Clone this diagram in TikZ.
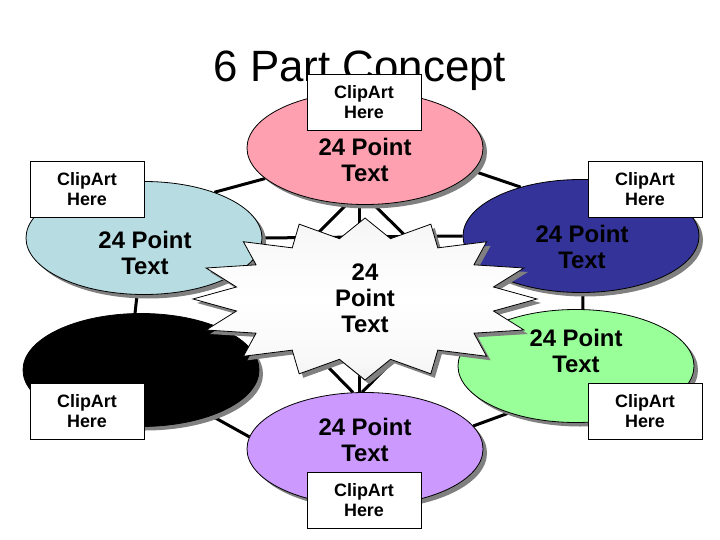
\documentclass[tikz,border=0pt]{standalone}
\usepackage{fontspec}
\setmainfont{Liberation Sans}
\usetikzlibrary{shapes.geometric}
\usetikzlibrary{shadows}
\usetikzlibrary{calc}

\pgfdeclarelayer{background}
\pgfsetlayers{background,main}

\definecolor{pinkfill}{RGB}{255,160,176}
\definecolor{bluefill}{RGB}{183,221,227}
\definecolor{navyfill}{RGB}{51,51,153}
\definecolor{greenfill}{RGB}{153,255,153}
\definecolor{violetfill}{RGB}{204,153,255}
\definecolor{shadowgray}{RGB}{128,128,128}

\pgfdeclareverticalshading{burstshade}{100bp}{color(0bp)=(black!22); color(30bp)=(black!3); color(50bp)=(white); color(70bp)=(black!3); color(100bp)=(black!12)}

\tikzset{
  part/.style={ellipse, draw=black, line width=0.8bp, minimum width=236bp, minimum height=113bp, inner sep=0pt,
    drop shadow={shadow xshift=4bp, shadow yshift=-4bp, opacity=1, fill=shadowgray}},
  parttext/.style={align=center, inner sep=0pt, font=\fontsize{24}{26}\selectfont\bfseries},
  clipbox/.style={draw=black, line width=0.8bp, fill=white, minimum width=114bp, minimum height=56bp,
    inner sep=0pt, align=center, font=\fontsize{18}{20}\selectfont\bfseries},
  link/.style={line width=3bp}
}

% 16 point burst round the middle
\newcommand{\burstpath}{(537,299) \foreach \i in {1,...,31}{ -- ({365+ifthenelse(isodd(\i),131,172)*cos(\i*11.25)},{299-ifthenelse(isodd(\i),61.5,81)*sin(\i*11.25)}) } -- cycle}

\begin{document}
\begin{tikzpicture}[x=1bp,y=-1bp]
\useasboundingbox (0,0) rectangle (720,540);

% title
\node[font=\fontsize{44}{50}\selectfont, anchor=base] (title) at (360,82) {6 Part Concept};

% parts
\node[part, fill=pinkfill]   (top) at (365,148) {};
\node[part, fill=bluefill]   (lu)  at (144,238) {};
\node[part, fill=navyfill]   (ru)  at (581,236) {};
\node[part, fill=black]      (ll)  at (141,370) {};
\node[part, fill=greenfill]  (rl)  at (576,366) {};
\node[part, fill=violetfill] (bot) at (365,449) {};

% links, behind the parts
\begin{pgfonlayer}{background}
\draw[link] (top.-163) -- (lu.33);
\draw[link] (top.-12) -- (ru.141);
\draw[link] (lu.-97) -- (ll.96);
\draw[link] (ru.-88) -- (rl.83);
\draw[link] (ll.-33) -- (bot.174);
\draw[link] (rl.-145) -- (bot.12);
% through the middle
\draw[link] (top.-96) -- (bot.96);
\draw[link] (lu.east) -- (ru.west);
\draw[link] (top.-108) -- (ll.27);
\draw[link] (top.-81) -- (rl.153);
\draw[link] (bot.102) -- (lu.-21);
\draw[link] (bot.93) -- (ru.-161);
\end{pgfonlayer}

% burst
\fill[shadowgray, shift={(4,4)}] \burstpath;
\draw[line width=0.8bp, shading=burstshade] \burstpath;
\node[parttext] (hub) at (365,298) {24\\Point\\Text};

% part texts
\node[parttext] (toptext) at (365,160) {24 Point\\Text};
\node[parttext] (lutext)  at (145,253) {24 Point\\Text};
\node[parttext] (rutext)  at (582,247) {24 Point\\Text};
\node[parttext] (rltext)  at (576,351) {24 Point\\Text};
\node[parttext] (bottext) at (365,440) {24 Point\\Text};

% clipart boxes
\node[clipbox] (topclip) at (364,102)   {ClipArt\\Here};
\node[clipbox] (luclip)  at (87,189.5)  {ClipArt\\Here};
\node[clipbox] (ruclip)  at (645,189.5) {ClipArt\\Here};
\node[clipbox] (llclip)  at (87,411)    {ClipArt\\Here};
\node[clipbox] (rlclip)  at (645,411)   {ClipArt\\Here};
\node[clipbox] (botclip) at (364,500.5) {ClipArt\\Here};
\end{tikzpicture}
\end{document}
